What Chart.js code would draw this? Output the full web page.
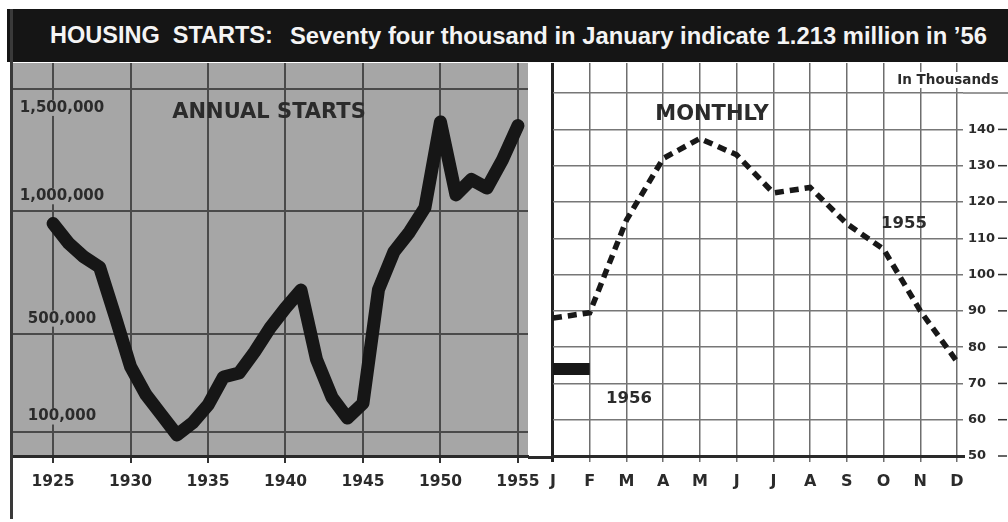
<!DOCTYPE html>
<html><head><meta charset="utf-8">
<script src="https://cdn.jsdelivr.net/npm/chart.js@4.4.1/dist/chart.umd.min.js"></script>
<style>
html,body{margin:0;padding:0;background:#fff;}
body{width:1008px;height:522px;position:relative;overflow:hidden;}
#title{position:absolute;left:7px;top:9px;width:1001px;height:53px;background:#151515;color:#f4f4f4;font-family:"Liberation Sans",Arial,sans-serif;font-weight:bold;white-space:nowrap;line-height:53px;}
#title .t1{position:absolute;left:43px;font-size:23.5px;}
#title .t2{position:absolute;left:283px;font-size:23.8px;}
#lb{position:absolute;left:10px;top:9px;width:2.5px;height:510px;background:#3a3a3a;}
#cl{position:absolute;left:0;top:0;}
#cr{position:absolute;left:540px;top:0;}
</style>
</head><body>
<div id="title"><span class="t1">HOUSING&nbsp; STARTS:</span><span class="t2">Seventy four thousand in January indicate 1.213 million in ’56</span></div>
<canvas id="cl" width="580" height="522"></canvas>
<canvas id="cr" width="468" height="522"></canvas>
<div id="lb"></div>
<script>
// ---- data ----
const years = [1925,1926,1927,1928,1929,1930,1931,1932,1933,1934,1935,1936,1937,1938,1939,1940,1941,1942,1943,1944,1945,1946,1947,1948,1949,1950,1951,1952,1953,1954,1955];
const annualStarts = [950,870,813,772,572,365,250,168,86,135,208,323,339,425,523,605,678,395,240,155,215,680,835,915,1015,1365,1067,1130,1095,1210,1350]; // thousands
const yearTickValues = [1925,1930,1935,1940,1945,1950,1955];
const annualTickValues = [0,100,500,1000,1500];
const annualTickLabels = ['','100,000','500,000','1,000,000','1,500,000'];
const monthLabels = ['J','F','M','A','M','J','J','A','S','O','N','D'];
const monthly1955 = [88,89.5,115,132,137.5,133,122.5,124,114,107,90,76]; // thousands
const jan1956 = [74];
const monthlyTickValues = [50,60,70,80,90,100,110,120,130,140,150];
const monthlyTickLabels = ['50','60','70','80','90','100','110','120','130','140',''];

const FONT = '"DejaVu Sans", sans-serif';
const INK = '#2b2b2b';
const PANEL_GRAY = '#a6a6a6';

// ---- left chart ----
const annualLabelOffsets = {100:-15, 500:-15, 1000:-15, 1500:19};
const leftDeco = {
  id:'leftDeco',
  beforeDraw(chart){
    const {ctx, chartArea:a} = chart;
    ctx.save(); ctx.fillStyle = PANEL_GRAY;
    ctx.fillRect(a.left, a.top, a.right-a.left, a.bottom-a.top);
    ctx.restore();
  },
  beforeDatasetsDraw(chart){
    const {ctx, chartArea:a, scales:{y}} = chart;
    ctx.save();
    ctx.font = 'bold 15px ' + FONT;
    ctx.textAlign = 'center'; ctx.textBaseline = 'middle';
    annualTickValues.forEach((v,i)=>{
      const lbl = annualTickLabels[i]; if(!lbl) return;
      const py = y.getPixelForValue(v) + annualLabelOffsets[v];
      const cx = a.left + 50;
      const w = ctx.measureText(lbl).width;
      ctx.fillStyle = PANEL_GRAY; ctx.fillRect(cx - w/2 - 3, py - 8, w + 6, 16);
      ctx.fillStyle = INK; ctx.fillText(lbl, cx, py);
    });
    ctx.font = 'bold 21px ' + FONT;
    ctx.fillStyle = INK;
    ctx.fillText('ANNUAL STARTS', 269, 113);
    ctx.restore();
  },
  afterDraw(chart){
    const {ctx, chartArea:a} = chart;
    ctx.save(); ctx.strokeStyle = '#2a2a2a'; ctx.lineWidth = 3;
    ctx.beginPath(); ctx.moveTo(a.right, a.bottom+1.5); ctx.lineTo(552, a.bottom+1.5); ctx.stroke();
    ctx.restore();
  }
};

new Chart(document.getElementById('cl'), {
  type:'line',
  data:{datasets:[{
    data: years.map((yr,i)=>({x:yr, y:annualStarts[i]})),
    borderColor:'#161616', borderWidth:13, borderJoinStyle:'round', borderCapStyle:'round',
    pointRadius:0, tension:0, fill:false
  }]},
  options:{
    responsive:false, animation:false, events:[],
    layout:{padding:{left:12,right:52,top:63,bottom:0}},
    plugins:{legend:{display:false}, tooltip:{enabled:false}},
    scales:{
      x:{type:'linear', min:1922.35, max:1955.65,
        afterBuildTicks:s=>{ s.ticks = yearTickValues.map(v=>({value:v})); },
        ticks:{callback:(v,i)=>String(yearTickValues[i]), font:{family:FONT, weight:'bold', size:15.5}, color:INK, padding:10, maxRotation:0, autoSkip:false},
        grid:{color:'#4a4a4a', lineWidth:2, drawTicks:true, tickLength:7, tickColor:'#333', tickWidth:2},
        border:{display:true, color:'#2a2a2a', width:3},
        afterFit:s=>{ s.height = 66; }
      },
      y:{min:0, max:1606,
        afterBuildTicks:s=>{ s.ticks = annualTickValues.map(v=>({value:v})); },
        ticks:{display:false},
        grid:{color:'#4a4a4a', lineWidth:2, drawTicks:false},
        border:{display:false},
        afterFit:s=>{ s.width = 0; }
      }
    }
  },
  plugins:[leftDeco]
});

// ---- right chart ----
const rightDeco = {
  id:'rightDeco',
  afterDraw(chart){
    const {ctx, chartArea:a, scales:{y}} = chart;
    ctx.save();
    // 150 line extension
    const p150 = y.getPixelForValue(150);
    ctx.strokeStyle = '#777'; ctx.lineWidth = 1.5;
    ctx.beginPath(); ctx.moveTo(a.right, p150); ctx.lineTo(chart.width, p150); ctx.stroke();
    // dashes after tick labels
    ctx.strokeStyle = '#333'; ctx.lineWidth = 1.5;
    monthlyTickValues.forEach((v,i)=>{
      if(!monthlyTickLabels[i]) return;
      const py = y.getPixelForValue(v);
      ctx.beginPath(); ctx.moveTo(a.right+35, py); ctx.lineTo(a.right+44, py); ctx.stroke();
    });
    // texts
    ctx.textAlign='center'; ctx.textBaseline='middle'; ctx.fillStyle = INK;
    ctx.font = 'bold 13.5px ' + FONT;
    const it = 'In Thousands'; const w = ctx.measureText(it).width;
    const cx = 948 - 540;
    ctx.fillStyle = '#fff'; ctx.fillRect(cx - w/2 - 2, 72, w + 4, 16);
    ctx.fillStyle = INK; ctx.fillText(it, cx, 80);
    ctx.font = 'bold 21px ' + FONT;
    ctx.fillText('MONTHLY', 712 - 540, 115);
    ctx.font = 'bold 16.5px ' + FONT;
    ctx.fillText('1955', 904 - 540, 224);
    ctx.fillText('1956', 629 - 540, 399);
    ctx.restore();
  }
};

new Chart(document.getElementById('cr'), {
  type:'line',
  data:{datasets:[
    {data: monthly1955.map((v,i)=>({x:i, y:v})), borderColor:'#181818', borderWidth:5.5, borderDash:[9,6], borderCapStyle:'butt', pointRadius:0, tension:0, fill:false},
    {data: [{x:0, y:jan1956[0]}, {x:1, y:jan1956[0]}], borderColor:'#181818', borderWidth:12, borderCapStyle:'butt', pointRadius:0, tension:0, fill:false}
  ]},
  options:{
    responsive:false, animation:false, events:[],
    layout:{padding:{left:12,right:0,top:63,bottom:0}},
    plugins:{legend:{display:false}, tooltip:{enabled:false}},
    scales:{
      x:{type:'linear', min:0, max:11.163,
        afterBuildTicks:s=>{ s.ticks = monthLabels.map((l,i)=>({value:i})); },
        ticks:{callback:(v,i)=>monthLabels[i], font:{family:FONT, weight:'bold', size:16}, color:INK, padding:10, maxRotation:0, autoSkip:false},
        grid:{color:c=>c.index===0?'#222':'#6e6e6e', lineWidth:c=>c.index===0?3:1.5, drawTicks:true, tickLength:6},
        border:{display:true, color:'#2a2a2a', width:3},
        afterFit:s=>{ s.height = 66; }
      },
      y:{position:'right', min:50, max:158.3,
        afterBuildTicks:s=>{ s.ticks = monthlyTickValues.map(v=>({value:v})); },
        ticks:{callback:(v,i)=>monthlyTickLabels[i], font:{family:FONT, weight:'bold', size:13}, color:INK, padding:5},
        grid:{color:'#777', lineWidth:1.5, drawTicks:false},
        border:{display:false},
        afterFit:s=>{ s.width = 45; }
      }
    }
  },
  plugins:[rightDeco]
});
</script>
</body></html>
